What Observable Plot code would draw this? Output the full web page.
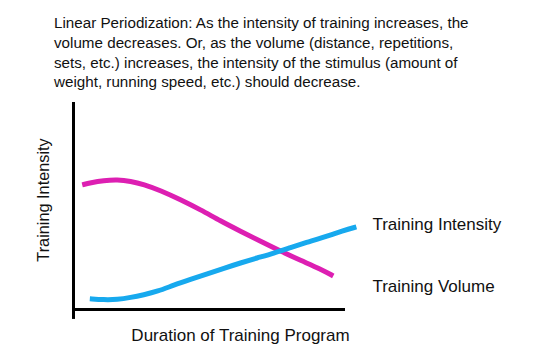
<!DOCTYPE html>
<html>
<head>
<meta charset="utf-8">
<script src="https://cdn.jsdelivr.net/npm/d3@7"></script>
<script src="https://cdn.jsdelivr.net/npm/@observablehq/plot@0.6"></script>
<style>
  body { margin: 0; background: #fff; width: 541px; height: 355px; overflow: hidden; }
  #title { font-family: "Liberation Sans", Arial, sans-serif; font-size: 15.2px; line-height: 19.8px; color: #111; padding: 13px 0 0 54px; height: 82px; box-sizing: content-box; }
  #chart svg { display: block; }
</style>
</head>
<body>
<div id="title">Linear Periodization: As the intensity of training increases, the<br>volume decreases. Or, as the volume (distance, repetitions,<br>sets, etc.) increases, the intensity of the stimulus (amount of<br>weight, running speed, etc.) should decrease.</div>
<div id="chart"></div>
<script>
// Magenta curve (labelled "Training Volume")
const volumeX = [3.2, 6.25, 11.1, 16.1, 21.0, 25.8, 32.0, 39.3, 46.7, 54.0, 61.4, 68.8, 76.1, 83.5, 90.8, 95.5];
const volumeY = [60.2, 61.2, 62.3, 62.7, 62.0, 60.5, 57.5, 53.1, 48.2, 42.8, 37.8, 32.9, 28.2, 23.7, 19.6, 16.2];
// Blue curve (labelled "Training Intensity")
const intensityX = [6.0, 11.1, 16.1, 21.0, 25.8, 30.8, 36.9, 43.0, 49.2, 55.3, 61.4, 67.5, 73.6, 79.8, 85.9, 90.8, 99.4, 104.0];
const intensityY = [5.2, 4.7, 4.8, 5.8, 7.1, 8.7, 11.8, 14.5, 17.2, 19.9, 22.5, 24.9, 27.2, 29.9, 32.5, 34.4, 38.2, 39.9];

const seriesLabels = ["Training Intensity", "Training Volume"];
const labelX = [109.9, 109.9];
const labelY = [41.1, 11.3];

const xAxisLabel = "Duration of Training Program";
const yAxisLabel = "Training Intensity";

const volume = volumeX.map((x, i) => ({x, y: volumeY[i]}));
const intensity = intensityX.map((x, i) => ({x, y: intensityY[i]}));
const labels = seriesLabels.map((t, i) => ({t, x: labelX[i], y: labelY[i]}));

const magenta = "#dd1fb2";
const blue = "#17a9ee";
const font = "'Liberation Sans', Arial, sans-serif";

const chart = Plot.plot({
  width: 541,
  height: 260,
  marginLeft: 73,
  marginRight: 196,
  marginTop: 7,
  marginBottom: 46,
  x: {domain: [0, 100], axis: null},
  y: {domain: [0, 100], axis: null},
  style: {fontFamily: font, background: "white"},
  marks: [
    Plot.ruleX([0], {y1: -4.8, y2: 100, stroke: "black", strokeWidth: 3}),
    Plot.ruleY([0], {x1: 0, x2: 100, stroke: "black", strokeWidth: 3}),
    Plot.line(volume, {x: "x", y: "y", stroke: magenta, strokeWidth: 5, curve: "basis", strokeLinecap: "butt"}),
    Plot.line(intensity, {x: "x", y: "y", stroke: blue, strokeWidth: 5, curve: "basis", strokeLinecap: "butt"}),
    Plot.text(labels, {x: "x", y: "y", text: "t", textAnchor: "start", fontSize: 17, fill: "#111"}),
    Plot.text([xAxisLabel], {frameAnchor: "bottom", text: d => d, textAnchor: "middle", lineAnchor: "middle", dx: 31, dy: 26, fontSize: 17, fill: "#111"}),
    Plot.text([yAxisLabel], {frameAnchor: "left", text: d => d, textAnchor: "middle", lineAnchor: "middle", rotate: -90, dx: -29.5, dy: -6, fontSize: 16.3, fill: "#111"})
  ]
});
document.getElementById("chart").appendChild(chart);
</script>
</body>
</html>
